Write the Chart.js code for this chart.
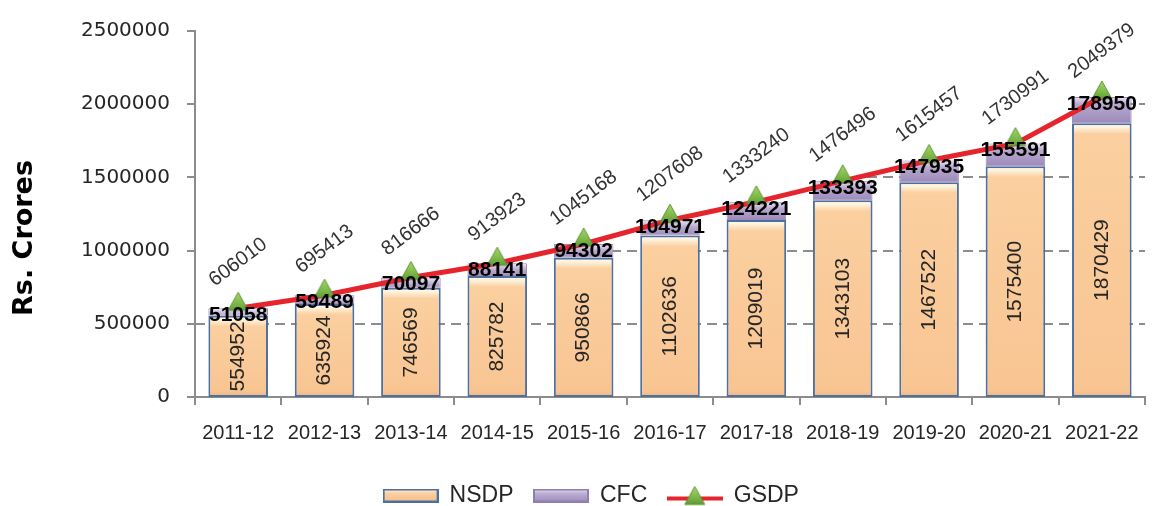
<!DOCTYPE html>
<html>
<head>
<meta charset="utf-8">
<script src="https://cdn.jsdelivr.net/npm/chart.js@4/dist/chart.umd.min.js"></script>
<style>
html,body{margin:0;padding:0;background:#fff;overflow:hidden;}
#wrap{position:relative;width:1162px;height:506px;}
</style>
</head>
<body>
<div id="wrap"><canvas id="c"></canvas></div>
<script>
// ---- data ----
const categories = ['2011-12','2012-13','2013-14','2014-15','2015-16','2016-17','2017-18','2018-19','2019-20','2020-21','2021-22'];
const nsdp = [554952, 635924, 746569, 825782, 950866, 1102636, 1209019, 1343103, 1467522, 1575400, 1870429];
const cfc  = [51058, 59489, 70097, 88141, 94302, 104971, 124221, 133393, 147935, 155591, 178950];
const gsdp = [606010, 695413, 816666, 913923, 1045168, 1207608, 1333240, 1476496, 1615457, 1730991, 2049379];
const yTicks = [0, 500000, 1000000, 1500000, 2000000, 2500000];
const seriesNames = ['NSDP', 'CFC', 'GSDP'];
const yTitle = 'Rs. Crores';

Chart.defaults.font.family = '"Liberation Sans", Arial, sans-serif';
Chart.defaults.color = '#262626';

// ---- fills ----
function segFill(ctx, lowArr, highArr, stops, fallback) {
  const chart = ctx.chart;
  const ys = chart.scales && chart.scales.y;
  if (ctx.type !== 'data' || !chart.chartArea || !ys) return fallback;
  const i = ctx.dataIndex;
  const lo = lowArr ? lowArr[i] : 0;
  const top = ys.getPixelForValue(lo + highArr[i]);
  const bot = ys.getPixelForValue(lo);
  const h = Math.max(1, bot - top);
  const g = chart.ctx.createLinearGradient(0, top, 0, bot);
  stops.forEach(s => {
    const p = s[0] >= 0 ? Math.min(0.95, s[0] / h) : Math.max(0.05, 1 + s[0] / h);
    g.addColorStop(p, s[1]);
  });
  return g;
}
const nsdpStops = [[0, '#fffbeb'], [4, '#fff3dc'], [11, '#fbcf9f'], [-6, '#f8c592'], [-0.01, '#eab582']];
const cfcStops = [[0, '#eee8f5'], [3, '#d5cbe3'], [7, '#b8a8ce'], [-0.01, '#9c8abb']];

// ---- marker / legend icons ----
function triangleIcon() {
  const cv = document.createElement('canvas');
  cv.width = 24; cv.height = 40;
  const g = cv.getContext('2d');
  const gr = g.createLinearGradient(0, 4, 0, 23);
  gr.addColorStop(0, '#a6d66a'); gr.addColorStop(0.6, '#7cb848'); gr.addColorStop(1, '#5f9835');
  g.fillStyle = gr; g.strokeStyle = '#5e9434'; g.lineWidth = 1;
  g.beginPath(); g.moveTo(12, 4); g.lineTo(22, 22); g.lineTo(2, 22); g.closePath(); g.fill(); g.stroke();
  return cv;
}
function boxIcon(c1, c2, c3, border) {
  const cv = document.createElement('canvas');
  cv.width = 56; cv.height = 14;
  const g = cv.getContext('2d');
  const gr = g.createLinearGradient(0, 0, 0, 14);
  gr.addColorStop(0, c1); gr.addColorStop(0.35, c2); gr.addColorStop(1, c3);
  g.fillStyle = gr; g.fillRect(1, 1, 54, 12);
  g.strokeStyle = border; g.lineWidth = 2; g.strokeRect(1, 1, 54, 12);
  return cv;
}
function lineIcon() {
  const cv = document.createElement('canvas');
  cv.width = 56; cv.height = 24;
  const g = cv.getContext('2d');
  g.strokeStyle = '#e5242b'; g.lineWidth = 4;
  g.beginPath(); g.moveTo(0, 15); g.lineTo(56, 15); g.stroke();
  const gr = g.createLinearGradient(0, 3, 0, 21);
  gr.addColorStop(0, '#a6d66a'); gr.addColorStop(0.6, '#7cb848'); gr.addColorStop(1, '#5f9835');
  g.fillStyle = gr; g.strokeStyle = '#5e9434'; g.lineWidth = 1;
  g.beginPath(); g.moveTo(28, 3); g.lineTo(38, 21); g.lineTo(18, 21); g.closePath(); g.fill(); g.stroke();
  return cv;
}
const markerIcon = triangleIcon();
const legendIcons = [
  boxIcon('#fff6e6', '#fbd0a3', '#f3bd88', '#4f6f9f'),
  boxIcon('#ece6f3', '#bcadd1', '#9d8bbb', '#8f80ad'),
  lineIcon()
];

// ---- plugins ----
// dashed value gridlines, shown only where they lie below the GSDP line
function spansBelowLine(v, px, a) {
  const spans = [];
  const add = (s, e) => { if (e > s) spans.push([s, e]); };
  if (gsdp[0] >= v) add(a.left, px[0]);
  for (let i = 0; i < gsdp.length - 1; i++) {
    const g0 = gsdp[i], g1 = gsdp[i + 1], x0 = px[i], x1 = px[i + 1];
    if (g0 >= v && g1 >= v) add(x0, x1);
    else if (g0 < v && g1 >= v) add(x0 + (x1 - x0) * (v - g0) / (g1 - g0), x1);
    else if (g0 >= v && g1 < v) add(x0, x0 + (x1 - x0) * (g0 - v) / (g0 - g1));
  }
  if (gsdp[gsdp.length - 1] >= v) add(px[px.length - 1], a.right);
  return spans;
}
const gridUnderLine = {
  id: 'gridUnderLine',
  beforeDatasetsDraw(chart) {
    const {ctx, chartArea: a, scales: {x, y}} = chart;
    const px = gsdp.map((v, i) => x.getPixelForValue(i));
    ctx.save();
    ctx.strokeStyle = '#8c8c8c';
    ctx.lineWidth = 2;
    yTicks.forEach(v => {
      const ly = Math.round(y.getPixelForValue(v));
      ctx.beginPath(); ctx.moveTo(a.left - 8, ly); ctx.lineTo(a.left, ly); ctx.stroke();
    });
    ctx.setLineDash([10, 6]);
    yTicks.forEach(v => {
      if (v === 0) return;
      const ly = Math.round(y.getPixelForValue(v));
      spansBelowLine(v, px, a).forEach(([s, e]) => {
        ctx.lineDashOffset = s - a.left;
        ctx.beginPath(); ctx.moveTo(s, ly); ctx.lineTo(e, ly); ctx.stroke();
      });
    });
    ctx.restore();
  }
};

const valueLabels = {
  id: 'valueLabels',
  afterDatasetsDraw(chart) {
    const c = chart.ctx;
    const m0 = chart.getDatasetMeta(0), m1 = chart.getDatasetMeta(1), m2 = chart.getDatasetMeta(2);
    c.save();
    c.textAlign = 'center'; c.textBaseline = 'middle';
    c.font = '21px "Liberation Sans"'; c.fillStyle = '#262626';
    m0.data.forEach((el, i) => {
      c.save(); c.translate(el.x, (el.y + el.base) / 2); c.rotate(-Math.PI / 2);
      c.fillText(String(nsdp[i]), 0, 0); c.restore();
    });
    c.font = '20px "Liberation Sans"'; c.fillStyle = '#333333';
    m2.data.forEach((el, i) => {
      c.save(); c.translate(el.x, el.y - 46); c.rotate(-37 * Math.PI / 180);
      c.fillText(String(gsdp[i]), 0, 0); c.restore();
    });
    c.font = 'bold 21px "Liberation Sans"'; c.fillStyle = '#000000';
    m1.data.forEach((el, i) => { c.fillText(String(cfc[i]), el.x, el.y + 7); });
    c.restore();
  },
  afterDraw(chart) {
    const c = chart.ctx;
    c.save();
    c.translate(25, 238); c.rotate(-Math.PI / 2);
    c.font = 'bold 27px "DejaVu Sans"'; c.fillStyle = '#000';
    c.textAlign = 'center'; c.textBaseline = 'middle';
    c.fillText(yTitle, 0, 0);
    c.restore();
  }
};

new Chart(document.getElementById('c'), {
  type: 'bar',
  data: {
    labels: categories,
    datasets: [
      {
        label: seriesNames[0], data: nsdp, stack: 'bars', order: 2,
        backgroundColor: ctx => segFill(ctx, null, nsdp, nsdpStops, '#fbc999'),
        borderColor: '#4f6f9f', borderWidth: 2, borderSkipped: false,
        categoryPercentage: 1, barPercentage: 0.69
      },
      {
        label: seriesNames[1], data: cfc, stack: 'bars', order: 2,
        backgroundColor: ctx => segFill(ctx, nsdp, cfc, cfcStops, '#b8a8ce'),
        borderColor: '#9a8cb6', borderWidth: 1, borderSkipped: false,
        categoryPercentage: 1, barPercentage: 0.69
      },
      {
        type: 'line', label: seriesNames[2], data: gsdp, stack: 'line', order: 1,
        borderColor: '#e5242b', borderWidth: 5, tension: 0, fill: false,
        pointStyle: markerIcon, pointRadius: 12, pointHoverRadius: 12
      }
    ]
  },
  options: {
    responsive: true,
    maintainAspectRatio: false,
    animation: false,
    events: [],
    layout: { padding: { left: 20, right: 0, top: 31, bottom: -11 } },
    scales: {
      x: {
        stacked: true,
        grid: { drawOnChartArea: false, drawTicks: true, tickLength: 8, color: '#8c8c8c', lineWidth: 2 },
        border: { color: '#8c8c8c', width: 2, dash: [] },
        ticks: { font: { size: 20 }, color: '#262626', padding: 16, maxRotation: 0, autoSkip: false },
        afterFit: s => { s.height = 67; s.paddingLeft = 0; s.paddingRight = 0; }
      },
      y: {
        stacked: true, min: 0, max: 2500000,
        afterBuildTicks: s => { s.ticks = yTicks.map(v => ({ value: v })); },
        grid: { display: false, drawOnChartArea: false, drawTicks: true, tickLength: 8, color: 'rgba(0,0,0,0)' },
        border: { display: true, color: '#8c8c8c', width: 2, dash: [] },
        ticks: { font: { size: 20, family: '"DejaVu Sans"' }, color: '#262626', padding: 17, callback: v => String(v) },
        afterFit: s => { s.width = 175; }
      }
    },
    plugins: {
      tooltip: { enabled: false },
      legend: {
        position: 'bottom',
        labels: {
          usePointStyle: true, pointStyleWidth: 55, padding: 20,
          font: { size: 23 }, color: '#262626',
          generateLabels: () => seriesNames.map((name, i) => ({
            text: name, pointStyle: legendIcons[i], fillStyle: 'rgba(0,0,0,0)',
            strokeStyle: 'rgba(0,0,0,0)', lineWidth: 0, hidden: false, datasetIndex: i, fontColor: '#262626'
          }))
        }
      }
    }
  },
  plugins: [gridUnderLine, valueLabels]
});
</script>
</body>
</html>
